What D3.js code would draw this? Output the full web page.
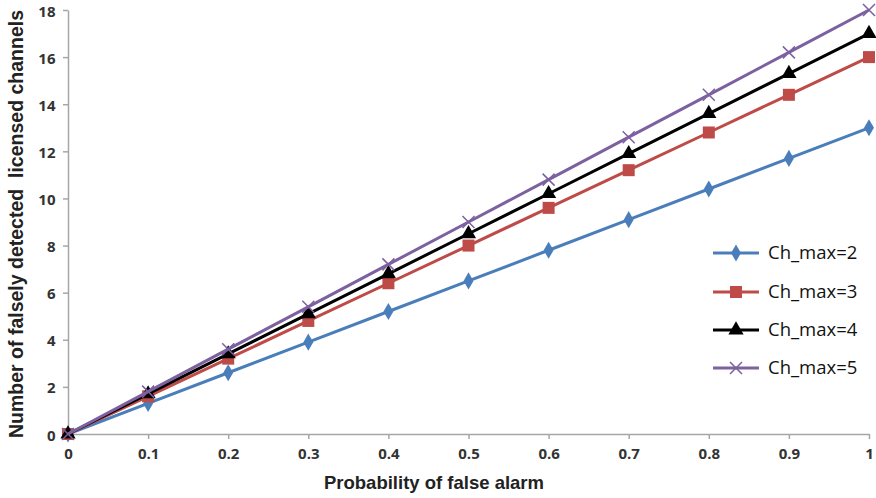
<!DOCTYPE html>
<html><head><meta charset="utf-8">
<script src="https://cdn.jsdelivr.net/npm/d3@7/dist/d3.min.js"></script>
<style>body{margin:0;background:#fff}svg{display:block}</style>
</head><body><svg id="c" width="876" height="498"></svg>
<script>
const xValues = [0,0.1,0.2,0.3,0.4,0.5,0.6,0.7,0.8,0.9,1];
const seriesNames = ["Ch_max=2","Ch_max=3","Ch_max=4","Ch_max=5"];
const ch2 = [0,1.3,2.6,3.9,5.2,6.5,7.8,9.1,10.4,11.7,13];
const ch3 = [0,1.6,3.2,4.8,6.4,8,9.6,11.2,12.8,14.4,16];
const ch4 = [0,1.7,3.4,5.1,6.8,8.5,10.2,11.9,13.6,15.3,17];
const ch5 = [0,1.8,3.6,5.4,7.2,9,10.8,12.6,14.4,16.2,18];
const yTicks = [0,2,4,6,8,10,12,14,16,18];
const xTickLabels = ["0","0.1","0.2","0.3","0.4","0.5","0.6","0.7","0.8","0.9","1"];
const colors = ["#4a7ebb","#be4b48","#000000","#7d60a0"];
const symbols = ["diamond","square","triangle","cross"];

const svg = d3.select("#c");
const x = d3.scaleLinear().domain([0,1]).range([68,869]);
const y = d3.scaleLinear().domain([0,18]).range([434,10]);
const series = [ch2,ch3,ch4,ch5];

const xa = svg.append("g").attr("transform","translate(0,434)")
  .call(d3.axisBottom(x).tickValues(xValues).tickFormat((d,i)=>xTickLabels[i]).tickSize(5).tickSizeOuter(0));
const ya = svg.append("g").attr("transform","translate(68,0)")
  .call(d3.axisLeft(y).tickValues(yTicks).tickFormat(d3.format("d")).tickSize(5).tickSizeOuter(0));
[xa,ya].forEach(a=>{
  a.selectAll("path,line").attr("stroke","#a6a6a6").attr("stroke-width",1.5);
  a.selectAll("text").attr("font-family","Open Sans, Liberation Sans, sans-serif").attr("font-size",15).attr("font-weight","bold").attr("fill","#333");
});
xa.selectAll("text").attr("dy","1.15em");
ya.selectAll("text").attr("dx","-0.3em").attr("dy","0.4em");

svg.append("text").attr("x",434).attr("y",489).attr("text-anchor","middle")
  .attr("font-family","Liberation Sans, Arial, sans-serif").attr("font-size",18.5).attr("font-weight","bold").attr("fill","#222")
  .text("Probability of false alarm");
svg.append("text").attr("transform","translate(23,224) rotate(-90)").attr("text-anchor","middle")
  .attr("font-family","Liberation Sans, Arial, sans-serif").attr("font-size",19.5).attr("font-weight","bold").attr("fill","#222")
  .style("white-space","pre")
  .text("Number of falsely detected  licensed channels");

function drawMarker(g, type, cx, cy, color){
  if(type==="diamond"){
    g.append("path").attr("d",d3.symbol(d3.symbolDiamond,85)()).attr("transform",`translate(${cx},${cy})`).attr("fill",color);
  } else if(type==="square"){
    g.append("rect").attr("x",cx-6).attr("y",cy-6).attr("width",12).attr("height",12).attr("fill",color);
  } else if(type==="triangle"){
    g.append("path").attr("d",d3.symbol(d3.symbolTriangle,100)()).attr("transform",`translate(${cx},${cy})`).attr("fill",color);
  } else {
    g.append("path").attr("d",`M${cx-6},${cy-6}L${cx+6},${cy+6}M${cx-6},${cy+6}L${cx+6},${cy-6}`).attr("stroke",color).attr("stroke-width",1.5);
  }
}

const line = d3.line().x((d,i)=>x(xValues[i])).y(d=>y(d));
series.forEach((s,k)=>{
  const g = svg.append("g");
  g.append("path").attr("d",line(s)).attr("fill","none").attr("stroke",colors[k]).attr("stroke-width",3);
  s.forEach((v,i)=>drawMarker(g,symbols[k],x(xValues[i]),y(v),colors[k]));
});

const ly = [253,292,330,368];
seriesNames.forEach((n,k)=>{
  const g = svg.append("g");
  g.append("line").attr("x1",713).attr("x2",759).attr("y1",ly[k]).attr("y2",ly[k]).attr("stroke",colors[k]).attr("stroke-width",3);
  drawMarker(g,symbols[k],736,ly[k],colors[k]);
  g.append("text").attr("x",768).attr("y",ly[k]).attr("dy","0.35em")
    .attr("font-family","Open Sans, Liberation Sans, sans-serif").attr("font-size",18.5).attr("fill","#111").text(n);
});
</script></body></html>
